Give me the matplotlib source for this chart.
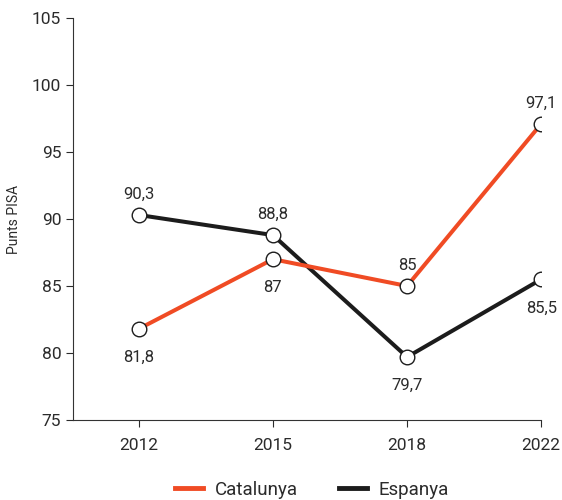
import matplotlib
matplotlib.use('Agg')
import matplotlib.pyplot as plt

years = ['2012', '2015', '2018', '2022']
catalunya = [81.8, 87.0, 85.0, 97.1]
espanya = [90.3, 88.8, 79.7, 85.5]
cat_pos = ['below', 'below', 'above', 'above']
esp_pos = ['above', 'above', 'below', 'below']

plt.rcParams['font.family'] = ['Roboto', 'DejaVu Sans']
txt = '#2b2b2b'
orange = '#f04b24'
black = '#1c1c1c'


def fmt(v):
    s = ('%.1f' % v).rstrip('0').rstrip('.')
    return s.replace('.', ',')


fig = plt.figure(figsize=(5.62, 5.0), dpi=100)
ax = fig.add_axes([0.13, 0.16, 0.833, 0.804])
x = list(range(len(years)))

ax.plot(x, espanya, color=black, lw=2.9, marker='o', ms=10.5,
        mfc='white', mec=black, mew=1.0, label='Espanya', zorder=3)
ax.plot(x, catalunya, color=orange, lw=2.9, marker='o', ms=10.5,
        mfc='white', mec=black, mew=1.0, label='Catalunya', zorder=4)

for vals, pos in [(catalunya, cat_pos), (espanya, esp_pos)]:
    for i, v in enumerate(vals):
        off = 16 if pos[i] == 'above' else -19.5
        ax.annotate(fmt(v), (i, v), xytext=(0, off), textcoords='offset points',
                    ha='center', va='center_baseline', fontsize=12, color=txt)

ax.set_xlim(-0.49, 3)
ax.set_ylim(75, 105)
ax.set_yticks(range(75, 106, 5))
ax.set_xticks(x)
ax.set_xticklabels(years)
ax.set_ylabel('Punts PISA', fontsize=10, color=txt, labelpad=8)
ax.tick_params(colors=txt, labelsize=12.5, length=5, width=0.8)
ax.tick_params(axis='x', pad=8)
for s in ['top', 'right']:
    ax.spines[s].set_visible(False)
for s in ['left', 'bottom']:
    ax.spines[s].set_color('#333333')
    ax.spines[s].set_linewidth(0.8)

h, l = ax.get_legend_handles_labels()
leg = fig.legend(h[::-1], l[::-1], loc='center', bbox_to_anchor=(0.555, 0.02),
                 ncol=2, frameon=False, fontsize=13.5, handlelength=1.5,
                 handletextpad=0.6, columnspacing=2.2)
for line in leg.get_lines():
    line.set_marker('')
    line.set_linewidth(3.5)
for t in leg.get_texts():
    t.set_color(txt)

fig.savefig('out.png', dpi=100)
